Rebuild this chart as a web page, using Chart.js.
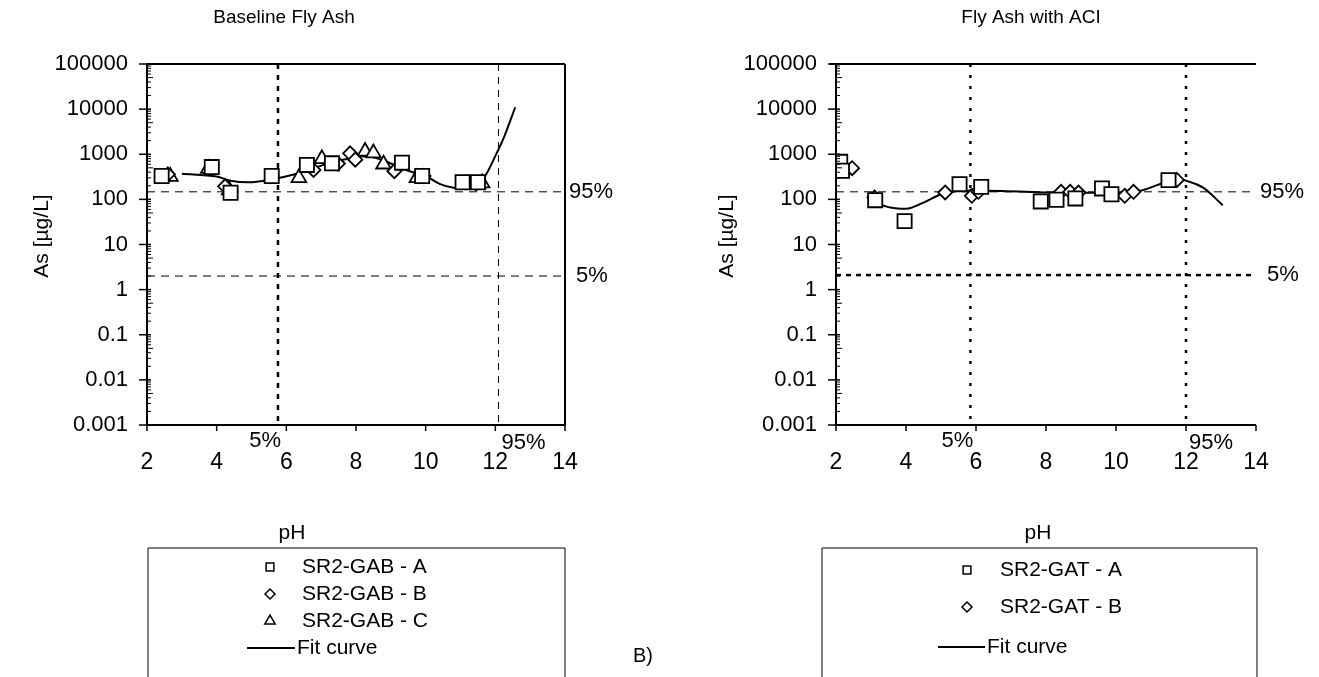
<!DOCTYPE html>
<html>
<head>
<meta charset="utf-8">
<script src="https://cdn.jsdelivr.net/npm/chart.js@4.4.0/dist/chart.umd.min.js"></script>
<style>
  html, body { margin: 0; padding: 0; background: #fff; }
  #wrap { position: relative; width: 1319px; height: 677px; overflow: hidden; }
  canvas { position: absolute; top: 0; }
</style>
</head>
<body>
<div id="wrap">
  <canvas id="chartGAB" width="625" height="677" style="left:0"></canvas>
  <canvas id="chartGAT" width="694" height="677" style="left:625px"></canvas>
</div>
<script>
// --- axes ---
const yTickValues = [0.001, 0.01, 0.1, 1, 10, 100, 1000, 10000, 100000];
const yTickLabels = ['0.001', '0.01', '0.1', '1', '10', '100', '1000', '10000', '100000'];
const xTickValues = [2, 4, 6, 8, 10, 12, 14];

// --- Baseline fly ash (SR2-GAB) ---
const gabA_pH = [2.42, 3.86, 4.40, 5.58, 6.59, 7.31, 9.32, 9.90, 11.06, 11.50];
const gabA_As = [330, 520, 140, 330, 580, 630, 650, 330, 240, 240];
const gabB_pH = [2.60, 4.24, 6.78, 7.48, 7.83, 7.98, 9.10, 9.94, 11.16, 11.45];
const gabB_As = [360, 195, 450, 620, 1050, 760, 420, 330, 240, 225];
const gabC_pH = [2.67, 3.76, 4.36, 6.36, 7.02, 8.26, 8.50, 8.79, 9.75, 11.50, 11.62];
const gabC_As = [320, 480, 160, 300, 790, 1150, 1060, 600, 300, 215, 230];
const gabFit_pH = [3.0, 4.0, 4.4, 4.9, 5.5, 6.3, 7.2, 8.3, 8.8, 9.5, 10.0, 10.4, 10.8, 11.4, 11.7, 12.05, 12.25, 12.57];
const gabFit_As = [370, 320, 260, 240, 270, 370, 620, 900, 720, 430, 330, 220, 180, 170, 320, 1100, 2400, 11000];
const gabPct_pH = [5.76, 12.09];   // 5% / 95% pH
const gabPct_As = [147, 2.0];      // 95% / 5% As

// --- Fly ash with ACI (SR2-GAT) ---
const gatA_pH = [2.12, 2.17, 3.12, 3.96, 5.53, 6.15, 7.85, 8.30, 8.84, 9.60, 9.87, 11.50];
const gatA_As = [680, 430, 96, 33, 217, 189, 90, 98, 105, 175, 130, 267];
const gatB_pH = [2.46, 3.10, 5.12, 5.88, 6.07, 8.43, 8.69, 8.93, 10.25, 10.50, 11.74];
const gatB_As = [490, 110, 142, 120, 147, 147, 147, 142, 120, 147, 270];
const gatFit_pH = [3.1, 3.55, 4.0, 4.5, 5.0, 5.5, 6.0, 6.9, 7.6, 8.5, 9.4, 10.4, 10.7, 11.35, 11.8, 12.0, 12.5, 13.05];
const gatFit_As = [85, 66, 62, 85, 130, 155, 158, 152, 145, 140, 140, 142, 155, 230, 280, 260, 180, 74];
const gatPct_pH = [5.84, 12.0];
const gatPct_As = [147, 2.1];

const FONT = "'Liberation Sans', Arial, sans-serif";
const zip = (xs, ys) => xs.map((x, i) => ({ x, y: ys[i] }));

function seg(ctx, x1, y1, x2, y2) {
  ctx.beginPath(); ctx.moveTo(x1, y1); ctx.lineTo(x2, y2); ctx.stroke();
}

function text(ctx, s, x, y, size, align, base) {
  ctx.font = size + 'px ' + FONT;
  ctx.textAlign = align || 'left';
  ctx.textBaseline = base || 'middle';
  ctx.fillText(s, x, y);
}

// percentile lines, frame, ticks, titles and the boxed legend
const panelDecor = {
  id: 'panelDecor',
  beforeDatasetsDraw(chart, args, o) {
    const { ctx, chartArea: a, scales: { x, y } } = chart;
    ctx.save();
    ctx.strokeStyle = '#000';
    o.pctPH.forEach((v, i) => {
      const px = x.getPixelForValue(v), st = o.vStyle[i];
      ctx.lineWidth = st.w; ctx.setLineDash(st.dash);
      seg(ctx, px, a.top, px, a.bottom);
    });
    o.pctAs.forEach((v, i) => {
      const py = y.getPixelForValue(v), st = o.hStyle[i];
      ctx.lineWidth = st.w; ctx.setLineDash(st.dash);
      seg(ctx, a.left, py, a.right + o.hExtend, py);
    });
    ctx.restore();
  },
  afterDraw(chart, args, o) {
    const { ctx, chartArea: a, scales: { x, y } } = chart;
    ctx.save();
    ctx.strokeStyle = '#000'; ctx.fillStyle = '#000';

    // frame
    ctx.lineWidth = 2;
    seg(ctx, a.left, a.top - 1, a.left, a.bottom + 1);
    seg(ctx, a.left - o.topStart, a.top, a.right + o.lineEnd, a.top);
    seg(ctx, a.left, a.bottom, a.right + o.lineEnd, a.bottom);
    if (o.rightBorder) seg(ctx, a.right, a.top, a.right, a.bottom);

    // y ticks: majors cross the axis, minors sit inside
    ctx.lineWidth = 1.5;
    yTickValues.forEach(v => {
      const py = y.getPixelForValue(v);
      seg(ctx, a.left - 8, py, a.left + 4, py);
    });
    ctx.lineWidth = 1;
    for (let k = -3; k < 5; k++) {
      for (let m = 2; m < 10; m++) {
        const py = y.getPixelForValue(m * Math.pow(10, k));
        seg(ctx, a.left, py, a.left + (m === 5 ? 6 : 4), py);
      }
    }
    // x ticks
    ctx.lineWidth = 1.5;
    xTickValues.forEach(v => {
      const px = x.getPixelForValue(v);
      seg(ctx, px, a.bottom, px, a.bottom + 6);
    });

    // percentile labels
    const h95 = y.getPixelForValue(o.pctAs[0]), h5 = y.getPixelForValue(o.pctAs[1]);
    text(ctx, '95%', a.right + 4, h95, 22);
    text(ctx, '5%', a.right + 11, h5, 22);
    const v5 = x.getPixelForValue(o.pctPH[0]), v95 = x.getPixelForValue(o.pctPH[1]);
    text(ctx, '5%', v5 + 3, a.bottom + 16, 22, 'right');
    text(ctx, '95%', v95 + 3, a.bottom + 18, 22, 'left');

    // titles
    text(ctx, o.title, o.titleX, 18, 19, 'center');
    text(ctx, 'pH', o.xTitleX, 533, 21, 'center');
    ctx.save();
    ctx.translate(o.yTitleX, 236);
    ctx.rotate(-Math.PI / 2);
    text(ctx, 'As [µg/L]', 0, 0, 21, 'center');
    ctx.restore();

    // legend box, open at the bottom
    const L = o.legend;
    ctx.lineWidth = 1;
    ctx.beginPath();
    ctx.moveTo(L.left, chart.height); ctx.lineTo(L.left, L.top);
    ctx.lineTo(L.right, L.top); ctx.lineTo(L.right, chart.height);
    ctx.stroke();
    chart.data.datasets.forEach((ds, i) => {
      const ry = L.rows[i];
      if (ds.showLine) {
        ctx.lineWidth = 2;
        seg(ctx, L.lineX[0], ry, L.lineX[1], ry);
        text(ctx, ds.label, L.lineX[1] + 2, ry, 21);
      } else {
        ctx.lineWidth = 1.5;
        ctx.fillStyle = '#fff';
        Chart.helpers.drawPoint(ctx, { pointStyle: ds.pointStyle, radius: L.markR[ds.pointStyle], borderWidth: 1.5, rotation: 0 }, L.markX, ry);
        ctx.fillStyle = '#000';
        text(ctx, ds.label, L.textX, ry, 21);
      }
    });
    if (o.tag) text(ctx, o.tag.s, o.tag.x, o.tag.y, 20);
    ctx.restore();
  }
};

function scatterSet(label, pts, style, r) {
  return {
    type: 'scatter', label, data: pts, showLine: false,
    pointStyle: style, pointRadius: r, pointBorderWidth: 1.8,
    pointBackgroundColor: '#fff', pointBorderColor: '#000'
  };
}

function fitSet(pts) {
  return {
    type: 'line', label: 'Fit curve', data: pts, showLine: true,
    borderColor: '#000', borderWidth: 2, pointRadius: 0,
    cubicInterpolationMode: 'monotone', order: 5
  };
}

function makePanel(id, datasets, pad, yWidth, decor) {
  return new Chart(document.getElementById(id), {
    data: { datasets },
    options: {
      responsive: false, animation: false, events: [],
      layout: { padding: pad },
      plugins: { legend: { display: false }, tooltip: { enabled: false }, panelDecor: decor },
      scales: {
        x: {
          type: 'linear', min: 2, max: 14,
          afterBuildTicks: s => { s.ticks = xTickValues.map(v => ({ value: v })); },
          afterFit: s => { s.height = 60; },
          grid: { display: false, drawTicks: false }, border: { display: false },
          ticks: { color: '#000', font: { family: FONT, size: 23 }, padding: 24, maxRotation: 0 }
        },
        y: {
          type: 'logarithmic', min: 0.001, max: 100000,
          afterBuildTicks: s => { s.ticks = yTickValues.map(v => ({ value: v })); },
          afterFit: s => { s.width = yWidth; },
          grid: { display: false, drawTicks: false }, border: { display: false },
          ticks: { color: '#000', font: { family: FONT, size: 22 }, padding: 19,
                   callback: (v, i) => yTickLabels[i] }
        }
      }
    },
    plugins: [panelDecor]
  });
}

const markR = { rect: 5.5, rectRot: 5, triangle: 6 };

makePanel('chartGAB', [
  fitSet(zip(gabFit_pH, gabFit_As)),
  scatterSet('SR2-GAB - A', zip(gabA_pH, gabA_As), 'rect', 10),
  scatterSet('SR2-GAB - B', zip(gabB_pH, gabB_As), 'rectRot', 7),
  scatterSet('SR2-GAB - C', zip(gabC_pH, gabC_As), 'triangle', 8.5)
], { left: 0, right: 60, top: 64, bottom: 192 }, 147, {
  pctPH: gabPct_pH, pctAs: gabPct_As,
  vStyle: [{ w: 2.5, dash: [5, 6] }, { w: 1, dash: [7, 6] }],
  hStyle: [{ w: 1, dash: [8, 6] }, { w: 1, dash: [8, 6] }],
  hExtend: 0, topStart: 0, lineEnd: 0, rightBorder: true,
  title: 'Baseline Fly Ash', titleX: 284, xTitleX: 292, yTitleX: 42,
  legend: { left: 148, right: 565, top: 548, markX: 270, textX: 302,
            lineX: [247, 295], rows: [648, 567, 594, 621], markR }
});

makePanel('chartGAT', [
  fitSet(zip(gatFit_pH, gatFit_As)),
  scatterSet('SR2-GAT - A', zip(gatA_pH, gatA_As), 'rect', 10),
  scatterSet('SR2-GAT - B', zip(gatB_pH, gatB_As), 'rectRot', 7)
], { left: 0, right: 63, top: 64, bottom: 192 }, 211, {
  pctPH: gatPct_pH, pctAs: gatPct_As,
  vStyle: [{ w: 2.5, dash: [3, 8] }, { w: 2.5, dash: [3, 8] }],
  hStyle: [{ w: 1, dash: [8, 6] }, { w: 2.5, dash: [5, 5] }],
  hExtend: 0, topStart: 6, lineEnd: 0, rightBorder: false,
  title: 'Fly Ash with ACI', titleX: 406, xTitleX: 413, yTitleX: 102,
  legend: { left: 197, right: 632, top: 548, markX: 342, textX: 375,
            lineX: [313, 360], rows: [647, 570, 607], markR },
  tag: { s: 'B)', x: 8, y: 656 }
});
</script>
</body>
</html>
